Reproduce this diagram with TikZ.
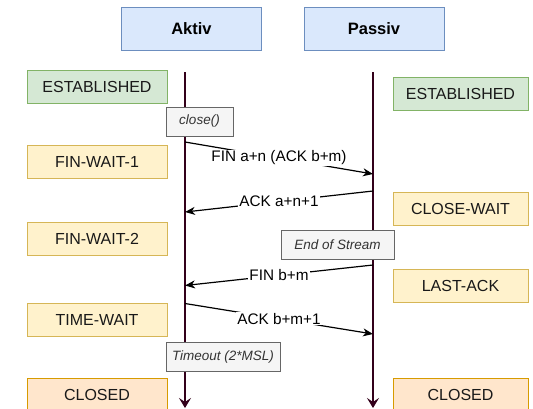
\documentclass[tikz,border=0pt]{standalone}
\usepackage{fontspec}
\setmainfont{Liberation Sans}
\usetikzlibrary{arrows.meta}
\definecolor{headfill}{HTML}{DAE8FC}
\definecolor{headline}{HTML}{6C8EBF}
\definecolor{estfill}{HTML}{D5E8D4}
\definecolor{estline}{HTML}{82B366}
\definecolor{waitfill}{HTML}{FFF2CC}
\definecolor{waitline}{HTML}{D6B656}
\definecolor{closedfill}{HTML}{FFE6CC}
\definecolor{closedline}{HTML}{D79B00}
\definecolor{notefill}{HTML}{F5F5F5}
\definecolor{noteline}{HTML}{666666}
\definecolor{notetext}{HTML}{333333}
\definecolor{lifecol}{HTML}{33001A}
\tikzset{
  header/.style={draw=headline, fill=headfill, line width=1pt, minimum width=140pt,
    minimum height=43pt, inner sep=0pt, font=\fontsize{16.5}{19}\selectfont\bfseries},
  statebox/.style={line width=1pt, minimum height=33pt, inner sep=0pt,
    font=\fontsize{16}{19}\selectfont, text=black!90},
  leftstate/.style={statebox, minimum width=140pt},
  rightstate/.style={statebox, minimum width=135pt},
  est/.style={draw=estline, fill=estfill},
  wait/.style={draw=waitline, fill=waitfill},
  closed/.style={draw=closedline, fill=closedfill},
  note/.style={draw=noteline, fill=notefill, line width=1pt, minimum height=29pt,
    inner sep=0pt, text=notetext, font=\fontsize{13.5}{16}\selectfont\itshape},
  lifeline/.style={draw=lifecol, line width=1.3pt,
    -{Stealth[length=10pt,width=12pt,inset=4pt]}},
  msg/.style={draw=black, line width=1.2pt,
    -{Stealth[length=10pt,width=8pt,inset=3pt]}},
  msglabel/.style={fill=white, inner sep=1pt, font=\fontsize{15.3}{18}\selectfont}
}
\begin{document}
\begin{tikzpicture}[x=1pt,y=-1pt]
\useasboundingbox (0,0) rectangle (533,408);

% lifeline end points
\coordinate (atop) at (185,72);
\coordinate (abot) at (185,408);
\coordinate (ptop) at (373,72);
\coordinate (pbot) at (373,408);
\draw[lifeline] (atop) -- (abot);
\draw[lifeline] (ptop) -- (pbot);

% participants
\node[header] (aktiv) at (191.5,29) {Aktiv};
\node[header] (passiv) at (374,29) {Passiv};

% states of the active side
\node[leftstate, est] (aest) at (97,86.5) {ESTABLISHED};
\node[leftstate, wait] (afw1) at (97,161.5) {FIN-WAIT-1};
\node[leftstate, wait] (afw2) at (97,238.5) {FIN-WAIT-2};
\node[leftstate, wait] (atw) at (97,320) {TIME-WAIT};
\node[leftstate, closed] (acl) at (97,394.5) {CLOSED};

% states of the passive side
\node[rightstate, est] (pest) at (460.5,93.5) {ESTABLISHED};
\node[rightstate, wait] (pcw) at (460.5,209) {CLOSE-WAIT};
\node[rightstate, wait] (pla) at (460.5,286) {LAST-ACK};
\node[rightstate, closed] (pcl) at (460.5,394.5) {CLOSED};

% events
\node[note, minimum width=67pt] (close) at (199.5,121.5) {close()};
\node[note, minimum width=113pt] (eos) at (337.5,244.5) {End of Stream};
\node[note, minimum width=114pt] (tmo) at (223,357) {Timeout (2*MSL)};

% message end points on the lifelines
\coordinate (m1s) at (185,142);
\coordinate (m1e) at (373,174);
\coordinate (m2s) at (373,191);
\coordinate (m2e) at (185,212);
\coordinate (m3s) at (373,265);
\coordinate (m3e) at (185,285.5);
\coordinate (m4s) at (185,303.5);
\coordinate (m4e) at (373,334);

\draw[msg] (m1s) -- node[msglabel] (l1) {FIN a+n (ACK b+m)} (m1e);
\draw[msg] (m2s) -- node[msglabel] (l2) {ACK a+n+1} (m2e);
\draw[msg] (m3s) -- node[msglabel] (l3) {FIN b+m} (m3e);
\draw[msg] (m4s) -- node[msglabel] (l4) {ACK b+m+1} (m4e);
\end{tikzpicture}
\end{document}
